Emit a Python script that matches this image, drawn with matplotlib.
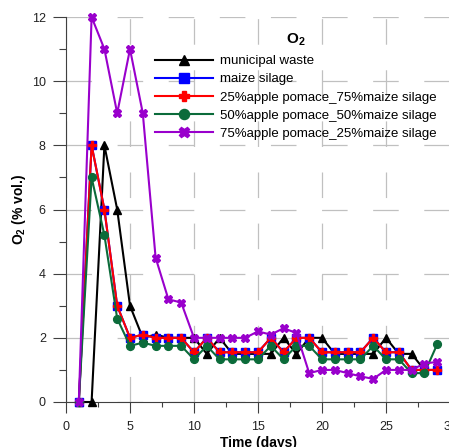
import matplotlib
matplotlib.use("Agg")
import matplotlib.pyplot as plt
from matplotlib.ticker import MultipleLocator

plt.rcParams['font.family'] = ['Liberation Sans', 'DejaVu Sans']
plt.rcParams['mathtext.fontset'] = 'custom'
plt.rcParams['mathtext.rm'] = 'Liberation Sans'
plt.rcParams['mathtext.bf'] = 'Liberation Sans:bold'
plt.rcParams['mathtext.it'] = 'Liberation Sans:italic'

days = list(range(1, 30))

municipal = [0, 0, 8, 6, 3, 2.0, 2.1, 2.0, 2.0, 2.0, 1.5, 2.0, 1.5, 1.5, 1.5,
             1.5, 2.0, 1.5, 2.0, 2.0, 1.5, 1.5, 1.5, 1.5, 2.0, 1.5, 1.5, 1.0]
maize = [0, 8, 6, 3, 2.0, 2.1, 2.0, 2.0, 2.0, 1.55, 2.0, 1.55, 1.55, 1.55, 1.55,
         2.0, 1.55, 2.0, 2.0, 1.55, 1.55, 1.55, 1.55, 2.0, 1.55, 1.55, 1.0, 1.0, 1.0]
ap25 = [0, 8, 6, 3, 2.0, 2.1, 2.0, 2.0, 2.0, 1.55, 2.0, 1.55, 1.55, 1.55, 1.55,
        2.0, 1.55, 2.0, 2.0, 1.55, 1.55, 1.55, 1.55, 2.0, 1.55, 1.55, 1.0, 1.0, 1.0]
ap50 = [0, 7, 5.2, 2.6, 1.75, 1.85, 1.75, 1.75, 1.75, 1.33, 1.75, 1.33, 1.33, 1.33, 1.33,
        1.75, 1.33, 1.75, 1.75, 1.33, 1.33, 1.33, 1.33, 1.75, 1.33, 1.33, 0.9, 0.9, 1.8]
ap75 = [0, 12, 11, 9, 11, 9, 4.5, 3.2, 3.1, 2.0, 2.0, 2.0, 2.0, 2.0, 2.2,
        2.1, 2.3, 2.15, 0.9, 1.0, 1.0, 0.9, 0.8, 0.72, 1.0, 1.0, 1.0, 1.2, 1.25]

labels = ["municipal waste", "maize silage", "25%apple pomace_75%maize silage",
          "50%apple pomace_50%maize silage", "75%apple pomace_25%maize silage"]
series = [municipal, maize, ap25, ap50, ap75]
colors = ["#000000", "#0000ff", "#ff0000", "#0b6b3a", "#9900cc"]
markers = ["^", "s", "P", "o", "X"]

fig = plt.figure(figsize=(4.49, 4.47), dpi=100)
ax = fig.add_axes([66/449, 45/447, 384/449, 385/447])

for vals, lab, c, m in zip(series, labels, colors, markers):
    ax.plot(days[:len(vals)], vals, color=c, marker=m, markersize=5.6, lw=1.5,
            label=lab, clip_on=False, zorder=3)

ax.set_xlim(0, 30)
ax.set_ylim(0, 12)
ax.xaxis.set_major_locator(MultipleLocator(5))
ax.xaxis.set_minor_locator(MultipleLocator(2.5))
ax.yaxis.set_major_locator(MultipleLocator(2))
ax.yaxis.set_minor_locator(MultipleLocator(1))

glw = 0.9
ax.grid(True, which='major', color='#c0c0c0', lw=glw,
        linestyle=(0, (18.4/glw, 18.4/glw)), zorder=0)
ax.set_axisbelow(True)

for s in ['top', 'right']:
    ax.spines[s].set_visible(False)
for s in ['left', 'bottom']:
    ax.spines[s].set_color('#404040')
    ax.spines[s].set_linewidth(0.8)

ax.tick_params(axis='both', which='both', direction='out', colors='#404040',
               labelcolor='#222222', labelsize=9, width=0.8)
ax.tick_params(axis='y', which='major', length=9.5, pad=5)
ax.tick_params(axis='y', which='minor', length=5)
ax.tick_params(axis='x', which='major', length=8, pad=6)
ax.tick_params(axis='x', which='minor', length=3.5)

ax.set_xlabel("Time (days)", fontsize=10, fontweight='bold', labelpad=2)
ax.set_ylabel(r"$\mathbf{O_2}$" + " (% vol.)", fontsize=10, fontweight='bold')
ax.yaxis.set_label_coords(-0.10, 0.5)

leg = ax.legend(loc='upper left', bbox_to_anchor=(0.232, 0.962), frameon=False,
                fontsize=9.55, handlelength=4.4, handletextpad=0.5,
                labelspacing=0.44, borderpad=0, borderaxespad=0, numpoints=1,
                markerscale=1.3,
                title=r"$\mathbf{O_2}$", title_fontproperties={'size': 11, 'weight': 'bold'})
leg._legend_box.sep = 5

fig.savefig("out.png", dpi=100)
